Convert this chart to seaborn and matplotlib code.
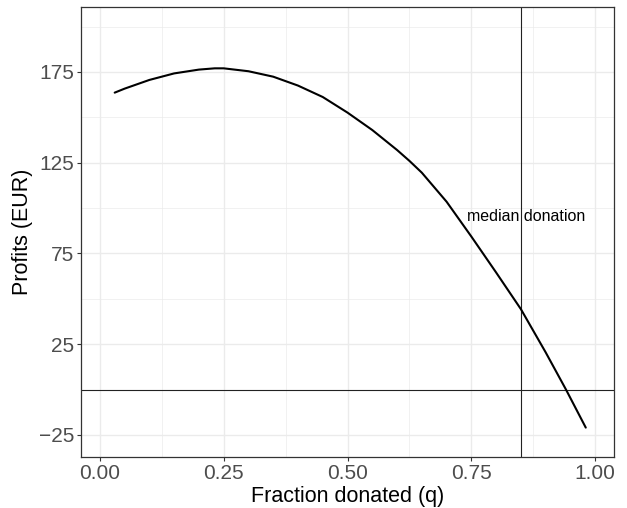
import numpy as np
import pandas as pd
import matplotlib
matplotlib.use("Agg")
import matplotlib.pyplot as plt
from matplotlib.ticker import MultipleLocator
import seaborn as sns

# ===============================
# DATA
# ===============================
fraction = [0.03, 0.05, 0.10, 0.15, 0.20, 0.232, 0.25, 0.30, 0.35, 0.40,
            0.45, 0.50, 0.55, 0.60, 0.625, 0.65, 0.70, 0.75, 0.80, 0.85,
            0.90, 0.941, 0.981]
profits = [163.6, 165.8, 170.6, 174.2, 176.3, 177.0, 177.0, 175.4, 172.4, 167.5,
           161.2, 152.6, 143.0, 132.0, 126.0, 119.5, 103.5, 84.3, 64.5, 44.3,
           20.5, 0.0, -21.0]

median_q = 0.85
zero_line = 0
label_text = "median donation"
label_x, label_y = 0.86, 95.5

x_ticks = [0.00, 0.25, 0.50, 0.75, 1.00]
x_tick_labels = ["0.00", "0.25", "0.50", "0.75", "1.00"]
y_ticks = [-25, 25, 75, 125, 175]
y_tick_labels = ["\u221225", "25", "75", "125", "175"]

df = pd.DataFrame({"q": fraction, "profit": profits})

# ===============================
# STYLE
# ===============================
sns.set_theme(style="white")
plt.rcParams["font.family"] = ["Liberation Sans", "DejaVu Sans"]

fig = plt.figure(figsize=(6.27, 5.08), dpi=100)
ax = fig.add_axes([81 / 627, (508 - 457) / 508, 533 / 627, 450 / 508])

# grid like theme_bw
ax.xaxis.set_minor_locator(MultipleLocator(0.125))
ax.yaxis.set_minor_locator(MultipleLocator(25))
ax.grid(which="major", color="#EBEBEB", linewidth=1.0, zorder=0)
ax.grid(which="minor", color="#EBEBEB", linewidth=0.5, zorder=0)
ax.set_axisbelow(True)

# ===============================
# PLOT
# ===============================
sns.lineplot(data=df, x="q", y="profit", color="black", linewidth=1.5, ax=ax,
             zorder=3)
ax.axvline(median_q, color="#222222", linewidth=0.8, zorder=2)
ax.axhline(zero_line, color="#222222", linewidth=0.8, zorder=2)
ax.text(label_x, label_y, label_text, ha="center", va="center",
        fontsize=11.5, color="black", zorder=4)

ax.set_xlim(-0.038, 1.038)
ax.set_ylim(-37.2, 210.8)
ax.set_xticks(x_ticks)
ax.set_xticklabels(x_tick_labels)
ax.set_yticks(y_ticks)
ax.set_yticklabels(y_tick_labels)

ax.tick_params(axis="both", which="major", length=3, width=0.8,
               color="#333333", labelcolor="#4D4D4D", labelsize=15,
               direction="out", pad=2, bottom=True, left=True)
ax.tick_params(which="minor", length=0)

for s in ax.spines.values():
    s.set_color("#333333")
    s.set_linewidth(0.9)

ax.set_xlabel("Fraction donated (q)", fontsize=15.5, color="black", labelpad=2)
ax.set_ylabel("Profits (EUR)", fontsize=15.5, color="black", labelpad=4)

fig.savefig("out.png", dpi=100)
plt.close(fig)
